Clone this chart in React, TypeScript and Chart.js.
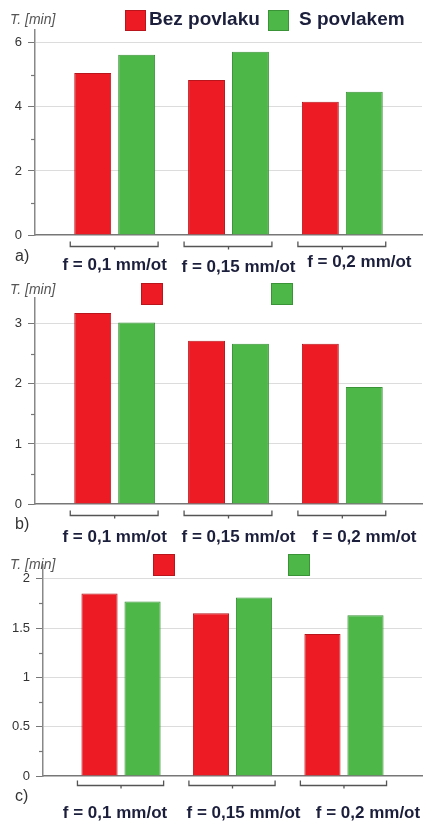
import React, { useEffect, useRef } from "react";
import { Chart, registerables } from "chart.js";

Chart.register(...registerables);

// ---- data ----
const categories = ["f = 0,1 mm/ot", "f = 0,15 mm/ot", "f = 0,2 mm/ot"];
const seriesNames = ["Bez povlaku", "S povlakem"];
const panelLetters = ["a)", "b)", "c)"];
const yTitle = "T. [min]";

const aBez = [5.06, 4.84, 4.16];
const aS = [5.63, 5.72, 4.47];
const bBez = [3.18, 2.72, 2.67];
const bS = [3.02, 2.67, 1.95];
const cBez = [1.85, 1.65, 1.44];
const cS = [1.77, 1.81, 1.63];

const aMajor = [0, 2, 4, 6];
const aMinor = [1, 3, 5];
const bMajor = [0, 1, 2, 3];
const bMinor = [0.5, 1.5, 2.5];
const cMajor = [0, 0.5, 1, 1.5, 2];
const cMinor = [0.25, 0.75, 1.25, 1.75];

// ---- styles ----
const FONT = '"Liberation Sans", Arial, Helvetica, sans-serif';
const RED = "#ED1C24";
const RED_EDGE = "#b8161c";
const GREEN = "#4DB748";
const GREEN_EDGE = "#3a9437";
const LABEL_COLOR = "#1c1f3c";

type Panel = {
  top: number;
  height: number;
  bez: number[];
  s: number[];
  major: number[];
  minor: number[];
  max: number;
  padTop: number;
  yW: number;
  letter: string;
  legendText: boolean;
  legendX: number[];
  legendY: number;
  legendSize: number;
  titleY: number;
  bracketDy: number;
  labelShift: number[];
  labelDy: number[];
  letterY: number;
  chartBottom: number;
};

const panels: Panel[] = [
  {
    top: 0, height: 275, bez: aBez, s: aS, major: aMajor, minor: aMinor, max: 6.4,
    padTop: 30, chartBottom: 235, yW: 35, letter: panelLetters[0], legendText: true,
    legendX: [125, 268], legendY: 10, legendSize: 21, titleY: 20, bracketDy: 11,
    labelShift: [0, 10, 17], labelDy: [30, 32, 27], letterY: 257,
  },
  {
    top: 275, height: 270, bez: bBez, s: bS, major: bMajor, minor: bMinor, max: 3.43,
    padTop: 23, chartBottom: 229, yW: 35, letter: panelLetters[1], legendText: false,
    legendX: [141, 271], legendY: 8, legendSize: 22, titleY: 15, bracketDy: 11,
    labelShift: [0, 10, 22], labelDy: [33, 33, 33], letterY: 250,
  },
  {
    top: 545, height: 278, bez: cBez, s: cS, major: cMajor, minor: cMinor, max: 2.14,
    padTop: 20, chartBottom: 231, yW: 43, letter: panelLetters[2], legendText: false,
    legendX: [153, 288], legendY: 9, legendSize: 22, titleY: 20, bracketDy: 9,
    labelShift: [-6, 11, 24], labelDy: [37, 37, 37], letterY: 252,
  },
];

function makeChart(canvas: HTMLCanvasElement, p: Panel) {
  const decor = {
    id: "decor",
    afterDraw(chart: any) {
      const { ctx, chartArea } = chart;
      const xs = chart.scales.x;
      const ys = chart.scales.y;
      ctx.save();
      // minor ticks
      ctx.strokeStyle = "#777";
      ctx.lineWidth = 1.2;
      for (const v of p.minor) {
        const py = Math.round(ys.getPixelForValue(v)) + 0.5;
        ctx.beginPath();
        ctx.moveTo(chartArea.left - 4, py);
        ctx.lineTo(chartArea.left, py);
        ctx.stroke();
      }
      // brackets + category labels
      const m0 = chart.getDatasetMeta(0);
      const m1 = chart.getDatasetMeta(1);
      categories.forEach((c, i) => {
        const b0 = m0.data[i];
        const b1 = m1.data[i];
        const l = b0.x - b0.width / 2 - 4;
        const r = b1.x + b1.width / 2 + 3;
        const yb = Math.round(chartArea.bottom + p.bracketDy) + 0.5;
        const cx = xs.getPixelForValue(i);
        ctx.strokeStyle = "#555";
        ctx.lineWidth = 1.3;
        ctx.beginPath();
        ctx.moveTo(l, yb - 5);
        ctx.lineTo(l, yb);
        ctx.lineTo(r, yb);
        ctx.lineTo(r, yb - 5);
        ctx.stroke();
        ctx.beginPath();
        ctx.moveTo(cx, yb);
        ctx.lineTo(cx, yb + 3);
        ctx.stroke();
        ctx.fillStyle = LABEL_COLOR;
        ctx.font = `bold 17px ${FONT}`;
        ctx.textAlign = "center";
        ctx.textBaseline = "middle";
        ctx.fillText(c, cx + p.labelShift[i], chartArea.bottom + p.labelDy[i]);
      });
      // panel letter
      ctx.fillStyle = "#333";
      ctx.font = `16px ${FONT}`;
      ctx.textAlign = "left";
      ctx.textBaseline = "middle";
      ctx.fillText(p.letter, 15, p.letterY);
      // y title
      ctx.fillStyle = "#555";
      ctx.font = `italic 14px ${FONT}`;
      ctx.fillText(yTitle, 10, p.titleY);
      // legend
      const fills = [RED, GREEN];
      const edges = [RED_EDGE, GREEN_EDGE];
      p.legendX.forEach((lx, k) => {
        ctx.fillStyle = fills[k];
        ctx.fillRect(lx, p.legendY, p.legendSize, p.legendSize);
        ctx.strokeStyle = edges[k];
        ctx.lineWidth = 1;
        ctx.strokeRect(lx + 0.5, p.legendY + 0.5, p.legendSize - 1, p.legendSize - 1);
        if (p.legendText) {
          ctx.fillStyle = LABEL_COLOR;
          ctx.font = `bold 19px ${FONT}`;
          ctx.textBaseline = "middle";
          ctx.fillText(seriesNames[k], lx + p.legendSize + (k === 0 ? 3 : 10), p.legendY + 10);
        }
      });
      ctx.restore();
    },
  };

  return new Chart(canvas, {
    type: "bar",
    data: {
      datasets: [
        {
          label: seriesNames[0],
          data: p.bez.map((v, i) => ({ x: i, y: v })),
          backgroundColor: RED,
          borderColor: RED_EDGE,
          borderWidth: 1,
          categoryPercentage: 0.772,
          barPercentage: 0.84,
        },
        {
          label: seriesNames[1],
          data: p.s.map((v, i) => ({ x: i, y: v })),
          backgroundColor: GREEN,
          borderColor: GREEN_EDGE,
          borderWidth: 1,
          categoryPercentage: 0.772,
          barPercentage: 0.84,
        },
      ],
    } as any,
    options: {
      animation: false,
      responsive: false,
      devicePixelRatio: 1,
      layout: { padding: { top: p.padTop, right: 4, left: 0, bottom: 0 } },
      plugins: { legend: { display: false }, tooltip: { enabled: false } },
      scales: {
        x: {
          type: "linear",
          min: -0.7,
          max: 2.7,
          offset: false,
          afterBuildTicks: (s: any) => {
            s.ticks = categories.map((_, i) => ({ value: i }));
          },
          ticks: { display: false },
          grid: { display: false, drawTicks: false },
          border: { display: true, color: "#777", width: 1.5 },
          afterFit: (s: any) => {
            s.height = p.height - p.chartBottom;
          },
        },
        y: {
          min: 0,
          max: p.max,
          afterBuildTicks: (s: any) => {
            s.ticks = p.major.map((v) => ({ value: v }));
          },
          ticks: {
            font: { family: FONT, size: 13 },
            color: "#333",
            padding: 6,
            callback: (v: any) => String(v),
          },
          grid: {
            color: (ctx: any) => (ctx.tick && ctx.tick.value === 0 ? "rgba(0,0,0,0)" : "#dcdcdc"),
            tickColor: "#777",
            tickLength: 7,
            lineWidth: 1,
          },
          border: { color: "#888", width: 1.5 },
          afterFit: (s: any) => {
            s.width = p.yW;
          },
        },
      },
    } as any,
    plugins: [decor],
  });
}

export default function App() {
  const r0 = useRef<HTMLCanvasElement>(null);
  const r1 = useRef<HTMLCanvasElement>(null);
  const r2 = useRef<HTMLCanvasElement>(null);
  const refs = [r0, r1, r2];

  useEffect(() => {
    const charts = panels.map((p, i) => makeChart(refs[i].current as HTMLCanvasElement, p));
    return () => charts.forEach((c) => c.destroy());
  }, []);

  return (
    <div
      style={{
        position: "absolute",
        left: 0,
        top: 0,
        width: 426,
        height: 823,
        background: "#fff",
        overflow: "hidden",
      }}
    >
      {panels.map((p, i) => (
        <canvas
          key={i}
          ref={refs[i]}
          width={426}
          height={p.height}
          style={{ position: "absolute", left: 0, top: p.top, width: 426, height: p.height }}
        />
      ))}
    </div>
  );
}
